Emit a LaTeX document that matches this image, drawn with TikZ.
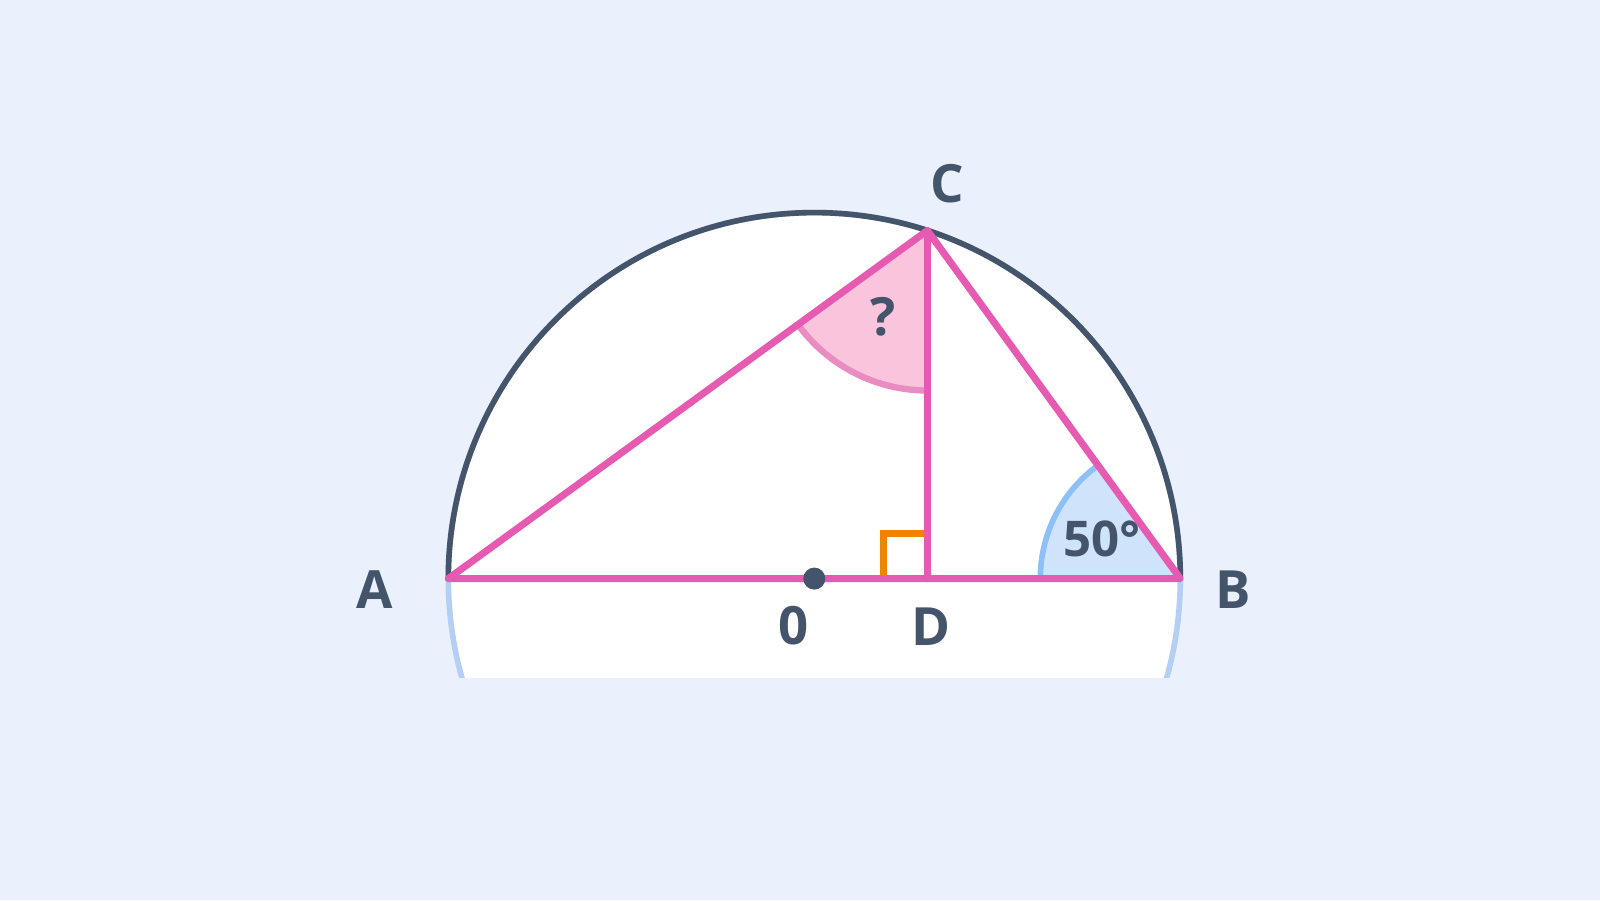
\documentclass[tikz,border=0pt]{standalone}
\usepackage{fontspec}
\setmainfont{Open Sans}
\usetikzlibrary{calc}
\definecolor{bgblue}{HTML}{EAF1FC}
\definecolor{slate}{HTML}{44546A}
\definecolor{rimblue}{HTML}{B5CFF4}
\definecolor{chordpink}{HTML}{E65AB2}
\definecolor{wedgepink}{HTML}{FAC4DC}
\definecolor{wedgerim}{HTML}{EA8CC2}
\definecolor{wedgeblue}{HTML}{CFE3FB}
\definecolor{arcblue}{HTML}{8CC0F6}
\definecolor{markorange}{HTML}{F08300}
\tikzset{
  chord/.style={chordpink, line width=2pt, line join=round, line cap=round},
  lbl/.style={text=slate, font=\bfseries\fontsize{15}{18}\selectfont}
}

\begin{document}
\begin{tikzpicture}
\fill[bgblue] (0,0) rectangle (16,9); % background
\useasboundingbox (0,0) rectangle (16,9);

\coordinate (O) at (8.143,3.214);
\coordinate (A) at ($(O)+(180:3.66)$);
\coordinate (B) at ($(O)+(0:3.66)$);
\coordinate (C) at ($(O)+(72:3.66)$);
\coordinate (D) at (C |- O);

% disc, cut off below
\begin{scope}
\clip (0,2.224) rectangle (16,9);
\fill[white] (O) circle (3.66);
\draw[rimblue, line width=1.6pt] (O) circle (3.66);
\end{scope}
\draw[slate, line width=1.6pt] (B) arc (0:180:3.66);

% angle at C
\fill[wedgepink] (C) -- +(216:1.6) arc (216:270:1.6) -- cycle;
\draw[wedgerim, line width=1.8pt] ($(C)+(216:1.6)$) arc (216:270:1.6);

% angle at B
\fill[wedgeblue] (B) -- +(126:1.4) arc (126:180:1.4) -- cycle;
\draw[arcblue, line width=1.6pt] ($(B)+(126:1.4)$) arc (126:180:1.4);

% right angle at D
\draw[markorange, line width=2pt] ($(D)+(-0.44,0)$) -- ++(0,0.45) -- ++(0.44,0);

\draw[chord] (A) -- (B) -- (C) -- cycle;
\draw[chord] (C) -- (D);
\fill[slate] (O) circle (0.11);

\node[lbl] (labA) at (3.745,3.10) {A};
\node[lbl] (labB) at (12.327,3.10) {B};
\node[lbl] (labC) at (9.47,7.16) {C};
\node[lbl] (labO) at (7.94,2.745) {0};
\node[lbl] (labD) at (9.306,2.735) {D};
\node[lbl] (q) at (8.827,5.83) {?};
\node[lbl, font=\bfseries\fontsize{14}{17}\selectfont] (ang) at (11.02,3.612) {50°};
\end{tikzpicture}
\end{document}
